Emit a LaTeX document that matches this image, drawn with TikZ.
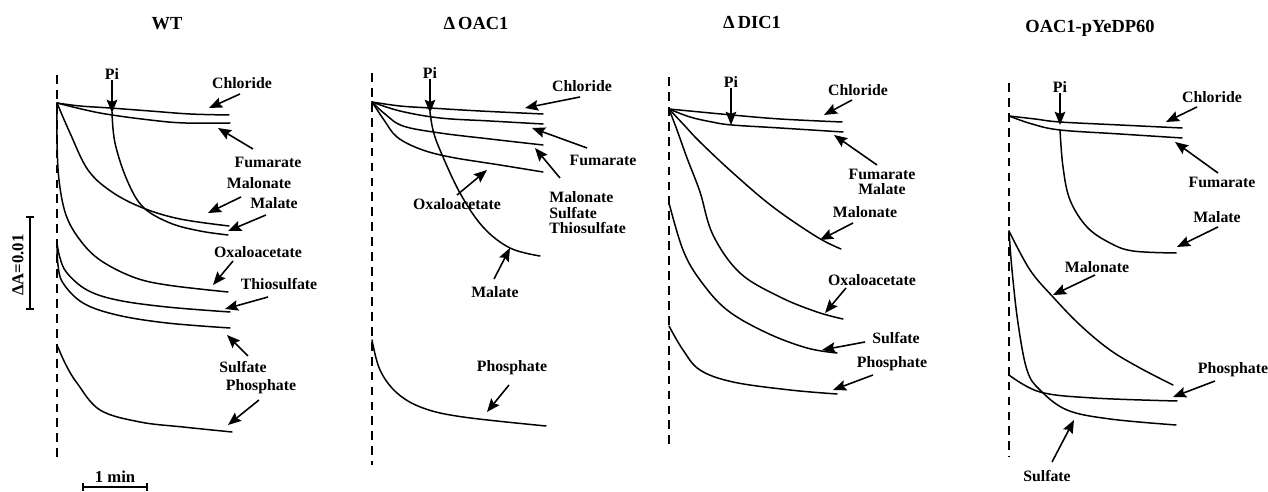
\documentclass[tikz,border=0pt]{standalone}
\usepackage{fontspec}
\setmainfont{Liberation Serif}
\usetikzlibrary{arrows.meta}
\begin{document}
\begin{tikzpicture}[x=0.02cm,y=-0.02cm,
 trace/.style={line width=0.85pt, line join=round, line cap=round},
 lbl/.style={font=\bfseries\fontsize{9}{10}\selectfont, inner sep=0pt},
 ttl/.style={font=\bfseries\fontsize{10.5}{12}\selectfont, inner sep=0pt},
 arr/.style={line width=0.9pt, -{Stealth[length=7.5pt,width=6pt,inset=1.2pt]}},
 zero/.style={line width=0.75pt, dash pattern=on 5pt off 3.5pt},
 bar/.style={line width=0.75pt}]
\useasboundingbox (0,0) rectangle (1268,492);

% ================= Panel 1: WT =================
\node[ttl] (t1) at (167,24) {WT};
\draw[zero] (57,75) -- (57,463);
\node[lbl] (p1pi) at (112,74) {Pi};
\coordinate (p1pih) at (112,113);
\draw[arr] (p1pi.south) -- (p1pih);
% traces
\draw[trace] plot[smooth,tension=0.6] coordinates {(57,103) (80,106) (110,108) (150,111) (190,114) (229,115)};
\draw[trace] plot[smooth,tension=0.6] coordinates {(57,103) (100,113) (150,120) (185,123) (230,123)};
\draw[trace] plot[smooth,tension=0.6] coordinates {(57,103) (70,133) (88,170) (112,192) (143,208) (180,219) (229,226)};
\draw[trace] plot[smooth,tension=0.6] coordinates {(112,112) (115,143) (127,180) (143,207) (170,223) (200,231) (228,235)};
\draw[trace] plot[smooth,tension=0.6] coordinates {(57,103) (57,140) (59,180) (66,215) (80,240) (100,260) (133,277) (167,285) (228,292)};
\draw[trace] plot[smooth,tension=0.6] coordinates {(57,243) (60,258) (67,273) (87,290) (117,300) (167,307) (230,312)};
\draw[trace] plot[smooth,tension=0.6] coordinates {(57,243) (58,265) (63,283) (83,303) (117,315) (167,323) (230,328)};
\draw[trace] plot[smooth,tension=0.6] coordinates {(57,345) (66,365) (77,383) (100,410) (140,422) (183,427) (232,432)};
% labels
\node[lbl] (l1chl) at (242,83) {Chloride};
\node[lbl] (l1fum) at (268,162) {Fumarate};
\node[lbl] (l1mln) at (259,183) {Malonate};
\node[lbl] (l1mal) at (274,203) {Malate};
\node[lbl] (l1oxa) at (258,252) {Oxaloacetate};
\node[lbl] (l1thi) at (279,284) {Thiosulfate};
\node[lbl] (l1sul) at (243,367) {Sulfate};
\node[lbl] (l1pho) at (261,387) {Phosphate};
\coordinate (a1chl) at (240,94);  \coordinate (h1chl) at (209,108);
\coordinate (a1fum) at (253,149); \coordinate (h1fum) at (218,128);
\coordinate (a1mln) at (241,197); \coordinate (h1mln) at (208,213);
\coordinate (a1mal) at (266,215); \coordinate (h1mal) at (228,231);
\coordinate (a1oxa) at (233,261); \coordinate (h1oxa) at (213,285);
\coordinate (a1thi) at (268,297); \coordinate (h1thi) at (225,309);
\coordinate (a1sul) at (248,356); \coordinate (h1sul) at (227,335);
\coordinate (a1pho) at (259,400); \coordinate (h1pho) at (228,425);
\foreach \n in {chl,fum,mln,mal,oxa,thi,sul,pho} {\draw[arr] (a1\n) -- (h1\n);}
% scale bars
\draw[bar] (26,217) -- (34,217) (30,217) -- (30,309) (26,309) -- (34,309);
\node[lbl, font=\bfseries\fontsize{9.5}{10}\selectfont, rotate=90] (dA) at (18,265) {ΔA=0.01};
\draw[bar] (83,483) -- (83,491) (83,487) -- (147,487) (147,483) -- (147,491);
\node[lbl, font=\bfseries\fontsize{9.5}{10}\selectfont] (min) at (115,477) {1 min};

% ================= Panel 2: Delta OAC1 =================
\node[ttl] (t2) at (476,23) {Δ\,OAC1};
\draw[zero] (372,73) -- (372,465);
\node[lbl] (p2pi) at (430,73) {Pi};
\coordinate (p2pih) at (430,113);
\draw[arr] (p2pi.south) -- (p2pih);
\draw[trace] plot[smooth,tension=0.6] coordinates {(372,102) (400,106) (430,108) (480,111) (543,114)};
\draw[trace] plot[smooth,tension=0.6] coordinates {(372,102) (400,111) (440,118) (490,121) (543,124)};
\draw[trace] plot[smooth,tension=0.6] coordinates {(372,102) (385,114) (403,126) (440,133) (490,139) (543,145)};
\draw[trace] plot[smooth,tension=0.6] coordinates {(372,102) (384,120) (397,137) (420,149) (450,157) (500,165) (543,172)};
\draw[trace] plot[smooth,tension=0.6] coordinates {(430,112) (433,130) (440,150) (460,193) (483,227) (510,248) (540,256)};
\draw[trace] plot[smooth,tension=0.6] coordinates {(372,340) (380,370) (397,393) (423,408) (463,417) (546,426)};
\node[lbl] (l2chl) at (582,86) {Chloride};
\node[lbl] (l2fum) at (603,160) {Fumarate};
\node[lbl, align=left] (l2mst) at (549,213) [anchor=west] {Malonate\\[-1.2pt]Sulfate\\[-1.2pt]Thiosulfate};
\node[lbl] (l2oxa) at (457,204) {Oxaloacetate};
\node[lbl] (l2mal) at (495,292) {Malate};
\node[lbl] (l2pho) at (512,368) {Phosphate};
\coordinate (a2chl) at (580,97);  \coordinate (h2chl) at (525,108);
\coordinate (a2fum) at (587,148); \coordinate (h2fum) at (532,128);
\coordinate (a2mst) at (560,178); \coordinate (h2mst) at (535,148);
\coordinate (a2oxa) at (457,195); \coordinate (h2oxa) at (487,170);
\coordinate (a2mal) at (494,279); \coordinate (h2mal) at (510,248);
\coordinate (a2pho) at (509,385); \coordinate (h2pho) at (487,412);
\foreach \n in {chl,fum,mst,oxa,mal,pho} {\draw[arr] (a2\n) -- (h2\n);}

% ================= Panel 3: Delta DIC1 =================
\node[ttl] (t3) at (752,22) {Δ\,DIC1};
\draw[zero] (669,77) -- (669,450);
\node[lbl] (p3pi) at (731,82) {Pi};
\coordinate (p3pih) at (731,125);
\draw[arr] (p3pi.south) -- (p3pih);
\draw[trace] plot[smooth,tension=0.6] coordinates {(669,109) (700,112) (732,115) (780,119) (842,122)};
\draw[trace] plot[smooth,tension=0.6] coordinates {(669,109) (690,117) (712,122) (732,125) (780,128) (843,132)};
\draw[trace] plot[smooth,tension=0.6] coordinates {(669,109) (684,125) (700,142) (733,173) (773,207) (817,237) (841,249)};
\draw[trace] plot[smooth,tension=0.6] coordinates {(669,109) (677,130) (687,158) (700,192) (713,235) (740,273) (780,297) (817,312) (843,319)};
\draw[trace] plot[smooth,tension=0.6] coordinates {(669,203) (683,250) (700,280) (727,310) (767,333) (807,348) (837,353)};
\draw[trace] plot[smooth,tension=0.6] coordinates {(669,326) (683,350) (700,370) (733,382) (790,390) (837,394)};
\node[lbl] (l3chl) at (858,90) {Chloride};
\node[lbl, align=center] (l3fum) at (882,182) {Fumarate\\[-1.5pt]Malate};
\node[lbl] (l3mln) at (865,212) {Malonate};
\node[lbl] (l3oxa) at (872,280) {Oxaloacetate};
\node[lbl] (l3sul) at (896,338) {Sulfate};
\node[lbl] (l3pho) at (892,364) {Phosphate};
\coordinate (a3chl) at (852,100); \coordinate (h3chl) at (824,115);
\coordinate (a3fum) at (877,165); \coordinate (h3fum) at (834,135);
\coordinate (a3mln) at (853,223); \coordinate (h3mln) at (820,240);
\coordinate (a3oxa) at (846,288); \coordinate (h3oxa) at (825,313);
\coordinate (a3sul) at (865,342); \coordinate (h3sul) at (822,350);
\coordinate (a3pho) at (873,375); \coordinate (h3pho) at (833,390);
\foreach \n in {chl,fum,mln,oxa,sul,pho} {\draw[arr] (a3\n) -- (h3\n);}

% ================= Panel 4: OAC1-pYeDP60 =================
\node[ttl] (t4) at (1090,28) {OAC1-pYeDP60};
\draw[zero] (1009,83) -- (1009,457);
\node[lbl] (p4pi) at (1060,87) {Pi};
\coordinate (p4pih) at (1060,125);
\draw[arr] (p4pi.south) -- (p4pih);
\draw[trace] plot[smooth,tension=0.6] coordinates {(1009,116) (1035,119) (1060,122) (1120,125) (1182,128)};
\draw[trace] plot[smooth,tension=0.6] coordinates {(1009,116) (1032,124) (1060,130) (1120,134) (1182,138)};
\draw[trace] plot[smooth,tension=0.6] coordinates {(1060,130) (1063,167) (1070,200) (1087,227) (1110,243) (1133,251) (1176,253)};
\draw[trace] plot[smooth,tension=0.6] coordinates {(1009,231) (1030,270) (1053,297) (1080,325) (1110,350) (1140,368) (1173,385)};
\draw[trace] plot[smooth,tension=0.6] coordinates {(1009,231) (1012,270) (1018,323) (1027,370) (1040,390) (1067,410) (1110,419) (1176,425)};
\draw[trace] plot[smooth,tension=0.6] coordinates {(1009,375) (1040,392) (1093,398) (1177,401)};
\node[lbl] (l4chl) at (1212,97) {Chloride};
\node[lbl] (l4fum) at (1222,182) {Fumarate};
\node[lbl] (l4mal) at (1217,217) {Malate};
\node[lbl] (l4mln) at (1097,267) {Malonate};
\node[lbl] (l4pho) at (1233,370) {Phosphate};
\node[lbl] (l4sul) at (1047,476) {Sulfate};
\coordinate (a4chl) at (1197,107); \coordinate (h4chl) at (1166,122);
\coordinate (a4fum) at (1218,173); \coordinate (h4fum) at (1175,142);
\coordinate (a4mal) at (1218,227); \coordinate (h4mal) at (1177,247);
\coordinate (a4mln) at (1095,275); \coordinate (h4mln) at (1053,295);
\coordinate (a4pho) at (1215,381); \coordinate (h4pho) at (1173,397);
\coordinate (a4sul) at (1052,462); \coordinate (h4sul) at (1074,420);
\foreach \n in {chl,fum,mal,mln,pho,sul} {\draw[arr] (a4\n) -- (h4\n);}
\end{tikzpicture}
\end{document}
